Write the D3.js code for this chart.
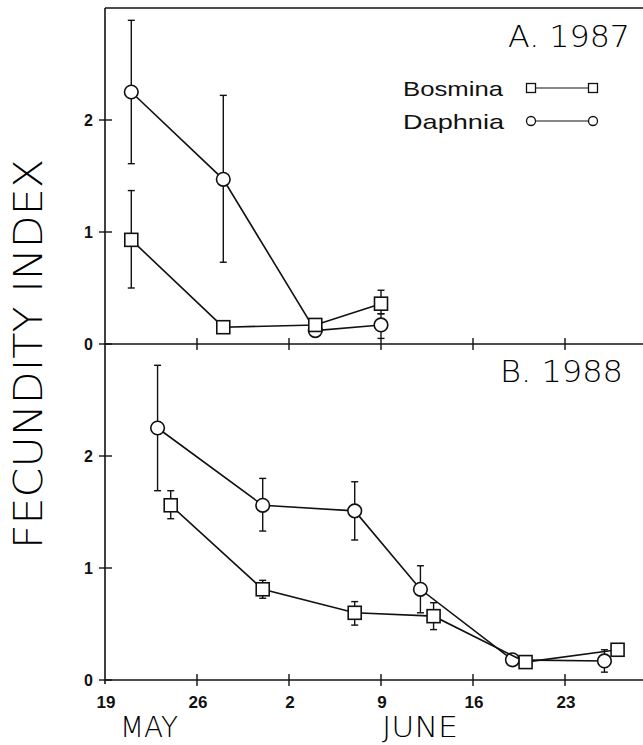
<!DOCTYPE html>
<html><head><meta charset="utf-8">
<script src="https://cdn.jsdelivr.net/npm/d3@7"></script>
<style>body{margin:0;background:#fff}svg{display:block}</style>
</head><body>
<script>
// ---- data ----
const dates1987Bos = ["05-21","05-28","06-04","06-09"];
const bos1987 = [0.93, 0.15, 0.17, 0.36];
const bos1987Lo = [0.50, null, null, 0.27];
const bos1987Hi = [1.37, null, null, 0.48];
const dates1987Daph = ["05-21","05-28","06-04","06-09"];
const daph1987 = [2.25, 1.47, 0.12, 0.17];
const daph1987Lo = [1.61, 0.73, null, 0.05];
const daph1987Hi = [2.89, 2.22, null, 0.27];

const dates1988Bos = ["05-24","05-31","06-07","06-13","06-20","06-27"];
const bos1988 = [1.56, 0.81, 0.60, 0.57, 0.16, 0.27];
const bos1988Lo = [1.44, 0.73, 0.49, 0.45, null, null];
const bos1988Hi = [1.69, 0.89, 0.70, 0.69, null, null];
const dates1988Daph = ["05-23","05-31","06-07","06-12","06-19","06-26"];
const daph1988 = [2.25, 1.56, 1.51, 0.81, 0.18, 0.17];
const daph1988Lo = [1.69, 1.33, 1.25, 0.60, null, 0.07];
const daph1988Hi = [2.81, 1.80, 1.77, 1.02, null, 0.27];

const xTickDates = ["05-19","05-26","06-02","06-09","06-16","06-23","06-30"];
const xTickLabels = ["19","26","2","9","16","23","30"];
const yTicks = [0, 1, 2];
const panelTitles = ["A. 1987", "B. 1988"];
const seriesNames = ["Bosmina", "Daphnia"];
const yLabel = "FECUNDITY INDEX";
const monthLabels = ["MAY", "JUNE"];

// ---- layout ----
const W = 643, H = 745;
const svg = d3.select("body").append("svg").attr("width", W).attr("height", H);
const parse = s => new Date(Date.UTC(1988, +s.slice(0,2)-1, +s.slice(3)));
const x = d3.scaleUtc().domain([parse("05-19"), parse("06-23")]).range([105, 565]);
const font = "'Liberation Sans', Arial, sans-serif";
const lightFont = "'DejaVu Sans', 'Liberation Sans', sans-serif";

const panels = [
  {top: 8, bottom: 344, title: panelTitles[0], titleY: 47, titleX: 508, titleW: 122,
   bos: {d: dates1987Bos, v: bos1987, lo: bos1987Lo, hi: bos1987Hi},
   daph: {d: dates1987Daph, v: daph1987, lo: daph1987Lo, hi: daph1987Hi}},
  {top: 344, bottom: 680, title: panelTitles[1], titleY: 382, titleX: 500, titleW: 123,
   bos: {d: dates1988Bos, v: bos1988, lo: bos1988Lo, hi: bos1988Hi},
   daph: {d: dates1988Daph, v: daph1988, lo: daph1988Lo, hi: daph1988Hi}}
];

const ink = "#111";
const x0 = x.range()[0];

svg.append("line").attr("x1", x0).attr("x2", x0).attr("y1", 8).attr("y2", 684)
  .attr("stroke", ink).attr("stroke-width", 1.6);
svg.append("line").attr("x1", x0).attr("x2", W).attr("y1", 8).attr("y2", 8)
  .attr("stroke", ink).attr("stroke-width", 1.4);

panels.forEach((p, pi) => {
  const y = d3.scaleLinear().domain([0, 3]).range([p.bottom, p.top]);
  const g = svg.append("g");

  g.append("line").attr("x1", x0).attr("x2", W).attr("y1", y(0)).attr("y2", y(0))
    .attr("stroke", ink).attr("stroke-width", 1.6);
  xTickDates.forEach(s => {
    const xx = x(parse(s));
    if (xx > x0 + 1 && xx < W) {
      g.append("line").attr("x1", xx).attr("x2", xx).attr("y1", y(0) - 6).attr("y2", y(0) + 6)
        .attr("stroke", ink).attr("stroke-width", 1.4);
    }
  });
  yTicks.forEach(t => {
    g.append("line").attr("x1", x0 - 6).attr("x2", x0 + 7).attr("y1", y(t)).attr("y2", y(t))
      .attr("stroke", ink).attr("stroke-width", 1.4);
    g.append("text").attr("x", x0 - 12).attr("y", y(t) + 6).attr("text-anchor", "end")
      .attr("font-family", font).attr("font-weight", "bold").attr("font-size", 16)
      .attr("fill", ink).text(t);
  });

  g.append("text").attr("x", p.titleX).attr("y", p.titleY)
    .attr("font-family", lightFont).attr("font-weight", 200).attr("font-size", 30).attr("fill", "#000")
    .attr("textLength", p.titleW).attr("lengthAdjust", "spacingAndGlyphs")
    .text(p.title);

  const drawSeries = (s, kind) => {
    const pts = s.d.map((d, i) => ({x: x(parse(d)), v: s.v[i], lo: s.lo[i], hi: s.hi[i]}));
    g.append("path").datum(pts)
      .attr("d", d3.line().x(d => d.x).y(d => y(d.v)))
      .attr("fill", "none").attr("stroke", ink).attr("stroke-width", 1.6);
    pts.forEach(d => {
      if (d.lo != null) {
        g.append("line").attr("x1", d.x).attr("x2", d.x).attr("y1", y(d.lo)).attr("y2", y(d.hi))
          .attr("stroke", ink).attr("stroke-width", 1.4);
        [d.lo, d.hi].forEach(e => {
          g.append("line").attr("x1", d.x - 3.5).attr("x2", d.x + 3.5).attr("y1", y(e)).attr("y2", y(e))
            .attr("stroke", ink).attr("stroke-width", 1.4);
        });
      }
    });
    pts.forEach(d => {
      if (kind === "square") {
        g.append("rect").attr("x", d.x - 6.5).attr("y", y(d.v) - 6.5).attr("width", 13).attr("height", 13)
          .attr("fill", "#fff").attr("stroke", ink).attr("stroke-width", 1.6);
      } else {
        g.append("circle").attr("cx", d.x).attr("cy", y(d.v)).attr("r", 6.8)
          .attr("fill", "#fff").attr("stroke", ink).attr("stroke-width", 1.6);
      }
    });
  };
  drawSeries(p.daph, "circle");
  drawSeries(p.bos, "square");
});

xTickDates.forEach((s, i) => {
  const xx = x(parse(s));
  if (xx < W - 10) {
    svg.append("text").attr("x", xx + 1).attr("y", 708).attr("text-anchor", "middle")
      .attr("font-family", font).attr("font-weight", "bold").attr("font-size", 17)
      .attr("fill", ink).text(xTickLabels[i]);
  }
});
const monthX = [120, 382], monthW = [58, 76];
monthLabels.forEach((m, i) => {
  svg.append("text").attr("x", monthX[i]).attr("y", 737).attr("font-family", lightFont)
    .attr("font-weight", 200).attr("font-size", 29).attr("fill", "#000")
    .attr("textLength", monthW[i]).attr("lengthAdjust", "spacingAndGlyphs").text(m);
});

svg.append("text").attr("transform", "translate(42,354) rotate(-90)").attr("text-anchor", "middle")
  .attr("font-family", lightFont).attr("font-weight", 200).attr("font-size", 39).attr("fill", "#000")
  .attr("textLength", 390).attr("lengthAdjust", "spacingAndGlyphs").text(yLabel);

const legY = [88, 121], legW = [100, 101];
seriesNames.forEach((n, i) => {
  svg.append("text").attr("x", 403).attr("y", legY[i] + 8).attr("font-family", font)
    .attr("font-size", 21)
    .attr("textLength", legW[i]).attr("lengthAdjust", "spacingAndGlyphs")
    .attr("fill", ink).text(n);
  svg.append("line").attr("x1", 531).attr("x2", 593).attr("y1", legY[i]).attr("y2", legY[i])
    .attr("stroke", ink).attr("stroke-width", 1.2);
  [531, 593].forEach(cx => {
    if (i === 0) {
      svg.append("rect").attr("x", cx - 4.5).attr("y", legY[i] - 4.5).attr("width", 9).attr("height", 9)
        .attr("fill", "#fff").attr("stroke", ink).attr("stroke-width", 1.3);
    } else {
      svg.append("circle").attr("cx", cx).attr("cy", legY[i]).attr("r", 4.5)
        .attr("fill", "#fff").attr("stroke", ink).attr("stroke-width", 1.3);
    }
  });
});
</script>
</body></html>
